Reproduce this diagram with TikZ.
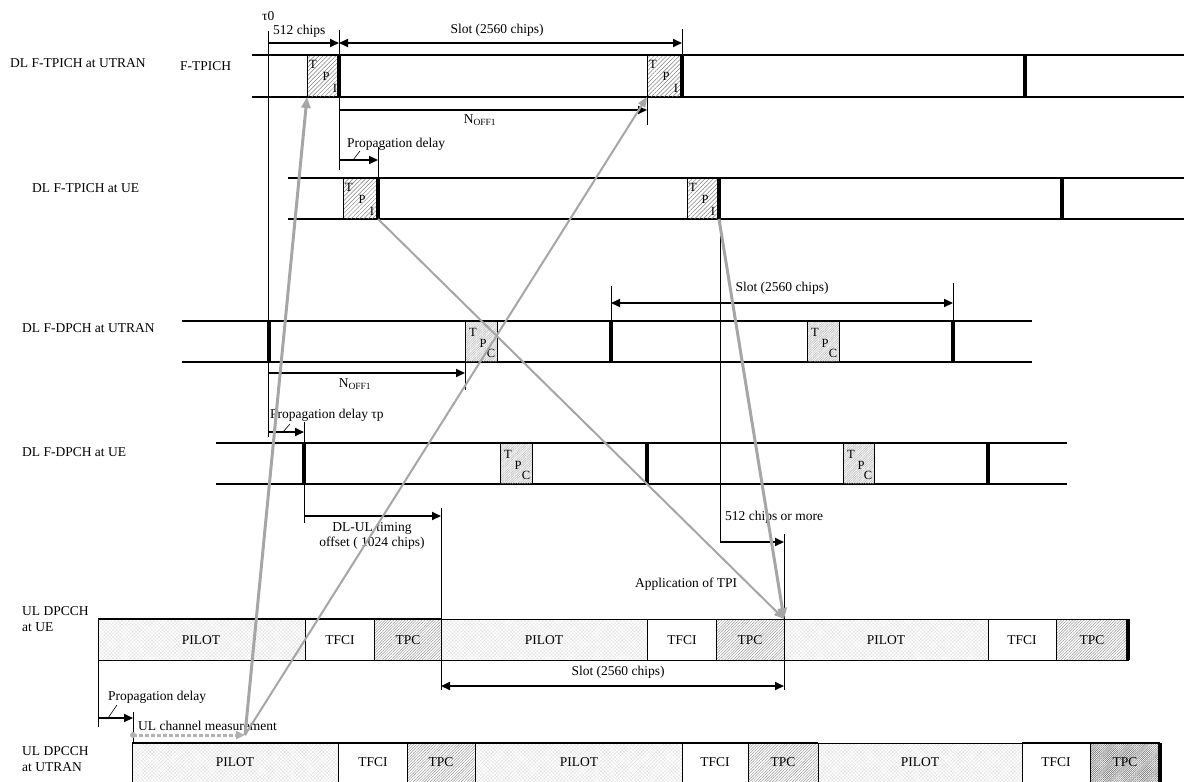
\documentclass[tikz,border=0pt]{standalone}
\usepackage{fontspec}
\setmainfont{Liberation Serif}
\usepackage{tikz}
\usetikzlibrary{arrows.meta,patterns.meta}

\tikzset{
  lab/.style={font=\fontsize{13.5}{15.5}\selectfont, inner sep=0pt, anchor=west},
  ctr/.style={font=\fontsize{13.5}{15.5}\selectfont, inner sep=0pt},
  ltr/.style={font=\fontsize{12.5}{14}\selectfont, inner sep=0pt},
  chan/.style={line width=2pt},
  sep/.style={line width=3.5pt},
  tick/.style={line width=0.8pt},
  dim/.style={line width=2pt, -{Triangle[length=9pt,width=8pt]}},
  ddim/.style={line width=2pt, {Triangle[length=9pt,width=8pt]}-{Triangle[length=9pt,width=8pt]}},
  tpi/.style={draw, line width=0.8pt, pattern={Lines[angle=45,distance=3pt,line width=0.5pt]}, pattern color=gray},
  dtpc/.style={draw, line width=0.8pt, pattern={Lines[angle=45,distance=1.2pt,line width=0.3pt]}, pattern color=gray!70},
  pilot/.style={draw, line width=0.8pt, pattern={Hatch[angle=45,distance=2.5pt,line width=0.3pt]}, pattern color=gray!25},
  tfci/.style={draw, line width=0.8pt},
  utpc/.style={draw, line width=0.8pt, pattern={Lines[angle=45,distance=2pt,line width=0.5pt]}, pattern color=gray!80},
  ktpc/.style={draw, line width=0.8pt, pattern={Lines[angle=45,distance=1.5pt,line width=0.6pt]}, pattern color=gray!90!black},
  link/.style={draw=gray!70, line width=2pt, -{Triangle[length=10pt,width=8pt]}},
  blink/.style={draw=gray!70, line width=3pt, -{Triangle[length=11pt,width=9pt]}},
  leader/.style={line width=0.6pt}
}

\begin{document}
\begin{tikzpicture}[x=1pt,y=-1pt]
\useasboundingbox (0,0) rectangle (1184,782);

\node[lab] (lTU) at (10,63) {DL F-TPICH at UTRAN};
\node[lab] (lF) at (180,66) {F-TPICH};
\node[lab] (lTE) at (32,188) {DL F-TPICH at UE};
\node[lab] (lDU) at (22,328) {DL F-DPCH at UTRAN};
\node[lab] (lDE) at (22,452) {DL F-DPCH at UE};
\node[lab,align=left] (lUE) at (22,619) {UL DPCCH\\at UE};
\node[lab,align=left] (lUU) at (22,759) {UL DPCCH\\at UTRAN};

\draw[chan] (252,55) -- (1184,55);
\draw[chan] (252,97) -- (1184,97);
\draw[tpi] (307,55) rectangle (339,97);
\draw[tpi] (647,55) rectangle (682,97);
\draw[sep] (339,55) -- (339,97);
\draw[sep] (682,55) -- (682,97);
\draw[sep] (1025,55) -- (1025,97);
\node[ltr] (a1T) at (313,64) {T};
\node[ltr] (a1P) at (326,76) {P};
\node[ltr] (a1I) at (335,88) {I};
\node[ltr] (a2T) at (653,64) {T};
\node[ltr] (a2P) at (666,76) {P};
\node[ltr] (a2I) at (676,88) {I};

\draw[chan] (288,178) -- (1184,178);
\draw[chan] (288,219) -- (1184,219);
\draw[tpi] (343,178) rectangle (378,219);
\draw[tpi] (687,178) rectangle (719,219);
\draw[sep] (378,178) -- (378,219);
\draw[sep] (719,178) -- (719,219);
\draw[sep] (1062,178) -- (1062,219);
\node[ltr] (b1T) at (349,187) {T};
\node[ltr] (b1P) at (362,199) {P};
\node[ltr] (b1I) at (372,211) {I};
\node[ltr] (b2T) at (693,187) {T};
\node[ltr] (b2P) at (705,199) {P};
\node[ltr] (b2I) at (713,211) {I};

\draw[chan] (182,321) -- (1032,321);
\draw[chan] (182,362) -- (1032,362);
\draw[dtpc] (465,321) rectangle (497,362);
\draw[dtpc] (807,321) rectangle (839,362);
\draw[sep] (269,321) -- (269,362);
\draw[sep] (611,321) -- (611,362);
\draw[sep] (953,321) -- (953,362);
\node[ltr] (c1T) at (473,332) {T};
\node[ltr] (c1P) at (483,343) {P};
\node[ltr] (c1C) at (491,353) {C};
\node[ltr] (c2T) at (815,332) {T};
\node[ltr] (c2P) at (825,343) {P};
\node[ltr] (c2C) at (833,353) {C};

\draw[chan] (216,443) -- (1067,443);
\draw[chan] (216,484) -- (1067,484);
\draw[dtpc] (500,443) rectangle (532,484);
\draw[dtpc] (843,443) rectangle (874,484);
\draw[sep] (304,443) -- (304,484);
\draw[sep] (647,443) -- (647,484);
\draw[sep] (988,443) -- (988,484);
\node[ltr] (d1T) at (508,454) {T};
\node[ltr] (d1P) at (518,465) {P};
\node[ltr] (d1C) at (526,475) {C};
\node[ltr] (d2T) at (851,454) {T};
\node[ltr] (d2P) at (861,465) {P};
\node[ltr] (d2C) at (868,475) {C};

\draw[pilot] (98,619) rectangle (305,660);
\draw[tfci] (305,619) rectangle (374,660);
\draw[utpc] (374,619) rectangle (441,660);
\draw[pilot] (441,619) rectangle (647,660);
\draw[tfci] (647,619) rectangle (716,660);
\draw[utpc] (716,619) rectangle (784,660);
\draw[pilot] (784,619) rectangle (988,660);
\draw[tfci] (988,619) rectangle (1056,660);
\draw[utpc] (1056,619) rectangle (1128,660);
\draw[chan] (98,619) -- (441,619);
\draw[sep] (1128,619) -- (1128,660);
\node[ctr] (e1) at (201,640) {PILOT};
\node[ctr] (e2) at (340,640) {TFCI};
\node[ctr] (e3) at (408,640) {TPC};
\node[ctr] (e4) at (544,640) {PILOT};
\node[ctr] (e5) at (682,640) {TFCI};
\node[ctr] (e6) at (750,640) {TPC};
\node[ctr] (e7) at (886,640) {PILOT};
\node[ctr] (e8) at (1022,640) {TFCI};
\node[ctr] (e9) at (1092,640) {TPC};

\draw[pilot] (132,743) rectangle (338,785);
\draw[tfci] (338,743) rectangle (407,785);
\draw[utpc] (407,743) rectangle (475,785);
\draw[pilot] (475,743) rectangle (682,785);
\draw[tfci] (682,743) rectangle (748,785);
\draw[utpc] (748,743) rectangle (818,785);
\draw[pilot] (818,743) rectangle (1022,785);
\draw[tfci] (1022,743) rectangle (1090,785);
\draw[ktpc] (1090,743) rectangle (1160,785);
\draw[chan] (132,743) -- (818,743);
\draw[chan] (1022,743) -- (1160,743);
\draw[sep] (1160,743) -- (1160,785);
\node[ctr] (f1) at (235,762) {PILOT};
\node[ctr] (f2) at (373,762) {TFCI};
\node[ctr] (f3) at (441,762) {TPC};
\node[ctr] (f4) at (579,762) {PILOT};
\node[ctr] (f5) at (715,762) {TFCI};
\node[ctr] (f6) at (783,762) {TPC};
\node[ctr] (f7) at (920,762) {PILOT};
\node[ctr] (f8) at (1056,762) {TFCI};
\node[ctr] (f9) at (1125,762) {TPC};

\coordinate (t0top) at (268,31);
\coordinate (t0bot) at (268,437);
\coordinate (s1top) at (339,30);
\coordinate (s1bot) at (339,170);
\coordinate (s2top) at (682,29);
\coordinate (s2bot) at (682,55);
\coordinate (n1top) at (647,55);
\coordinate (n1bot) at (647,125);
\coordinate (p1top) at (378,147);
\coordinate (p1bot) at (378,178);
\coordinate (m1top) at (720,219);
\coordinate (m1bot) at (720,543);
\coordinate (s3top) at (611,286);
\coordinate (s3bot) at (611,321);
\coordinate (s4top) at (953,283);
\coordinate (s4bot) at (953,321);
\coordinate (n2top) at (465,362);
\coordinate (n2bot) at (465,390);
\coordinate (p2top) at (304,422);
\coordinate (p2bot) at (304,443);
\coordinate (o1top) at (304,484);
\coordinate (o1bot) at (304,523);
\coordinate (o2top) at (441,508);
\coordinate (o2bot) at (441,619);
\coordinate (m2top) at (784,534);
\coordinate (m2bot) at (784,619);
\coordinate (u1top) at (441,660);
\coordinate (u1bot) at (441,690);
\coordinate (u2top) at (784,660);
\coordinate (u2bot) at (784,690);
\coordinate (u3top) at (98,660);
\coordinate (u3bot) at (98,727);
\coordinate (u4top) at (133,712);
\coordinate (u4bot) at (133,743);
\draw[tick] (t0top) -- (t0bot);
\draw[tick] (s1top) -- (s1bot);
\draw[tick] (s2top) -- (s2bot);
\draw[tick] (n1top) -- (n1bot);
\draw[tick] (p1top) -- (p1bot);
\draw[tick] (m1top) -- (m1bot);
\draw[tick] (s3top) -- (s3bot);
\draw[tick] (s4top) -- (s4bot);
\draw[tick] (n2top) -- (n2bot);
\draw[tick] (p2top) -- (p2bot);
\draw[tick] (o1top) -- (o1bot);
\draw[tick] (o2top) -- (o2bot);
\draw[tick] (m2top) -- (m2bot);
\draw[tick] (u1top) -- (u1bot);
\draw[tick] (u2top) -- (u2bot);
\draw[tick] (u3top) -- (u3bot);
\draw[tick] (u4top) -- (u4bot);

\coordinate (c512a) at (268,43);
\coordinate (c512b) at (339,43);
\coordinate (slAa) at (339,43);
\coordinate (slAb) at (682,43);
\coordinate (nfAa) at (339,110);
\coordinate (nfAb) at (647,110);
\coordinate (pdAa) at (339,160);
\coordinate (pdAb) at (378,160);
\coordinate (slBa) at (611,303);
\coordinate (slBb) at (953,303);
\coordinate (nfBa) at (269,373);
\coordinate (nfBb) at (465,373);
\coordinate (pdBa) at (268,432);
\coordinate (pdBb) at (304,432);
\coordinate (ofa) at (304,516);
\coordinate (ofb) at (441,516);
\coordinate (mra) at (720,542);
\coordinate (mrb) at (784,542);
\coordinate (slCa) at (441,686);
\coordinate (slCb) at (784,686);
\coordinate (pdCa) at (98,718);
\coordinate (pdCb) at (133,718);
\draw[dim] (c512a) -- (c512b);
\draw[ddim] (slAa) -- (slAb);
\draw[dim] (nfAa) -- (nfAb);
\draw[dim] (pdAa) -- (pdAb);
\draw[ddim] (slBa) -- (slBb);
\draw[dim] (nfBa) -- (nfBb);
\draw[dim] (pdBa) -- (pdBb);
\draw[dim] (ofa) -- (ofb);
\draw[dim] (mra) -- (mrb);
\draw[ddim] (slCa) -- (slCb);
\draw[dim] (pdCa) -- (pdCb);

\node[lab] (tau0) at (262,16) {τ0};
\node[lab] (t512) at (273,31) {512 chips};
\node[ctr] (tslA) at (497,30) {Slot (2560 chips)};
\node[ctr] (tnfA) at (480,120) {N\textsubscript{OFF1}};
\node[lab] (tpdA) at (347,144) {Propagation delay};
\node[ctr] (tslB) at (782,288) {Slot (2560 chips)};
\node[ctr] (tnfB) at (355,384) {N\textsubscript{OFF1}};
\node[lab] (tpdB) at (270,415) {Propagation delay τp};
\node[ctr,align=center] (tof) at (372,536) {DL-UL timing\\offset ( 1024 chips)};
\node[lab] (tmr) at (725,517) {512 chips or more};
\node[lab] (tap) at (635,584) {Application of TPI};
\node[ctr] (tslC) at (618,672) {Slot (2560 chips)};
\node[lab] (tpdC) at (108,697) {Propagation delay};
\node[lab] (tum) at (138,726) {UL channel measurement};
\draw[leader] (353,160) -- (360,151);
\draw[leader] (283,432) -- (290,424);
\draw[leader] (108,718) -- (117,705);

\coordinate (ms0) at (133,735);
\coordinate (ms1) at (245,735);
\fill[gray!60] (ms0) circle (3pt);
\draw[draw=gray!60, line width=3pt, dash pattern=on 4pt off 2pt, -{Triangle[length=9pt,width=8pt]}] (ms0) -- (ms1);
\coordinate (tpiA) at (307,97);
\coordinate (tpiB) at (647,97);
\coordinate (ueA) at (378,219);
\coordinate (ueB) at (719,219);
\coordinate (app) at (784,619);
\draw[blink] (ms1) -- (tpiA);
\draw[link] (ms1) -- (tpiB);
\draw[link] (ueA) -- (app);
\draw[blink] (ueB) -- (app);
\end{tikzpicture}
\end{document}
